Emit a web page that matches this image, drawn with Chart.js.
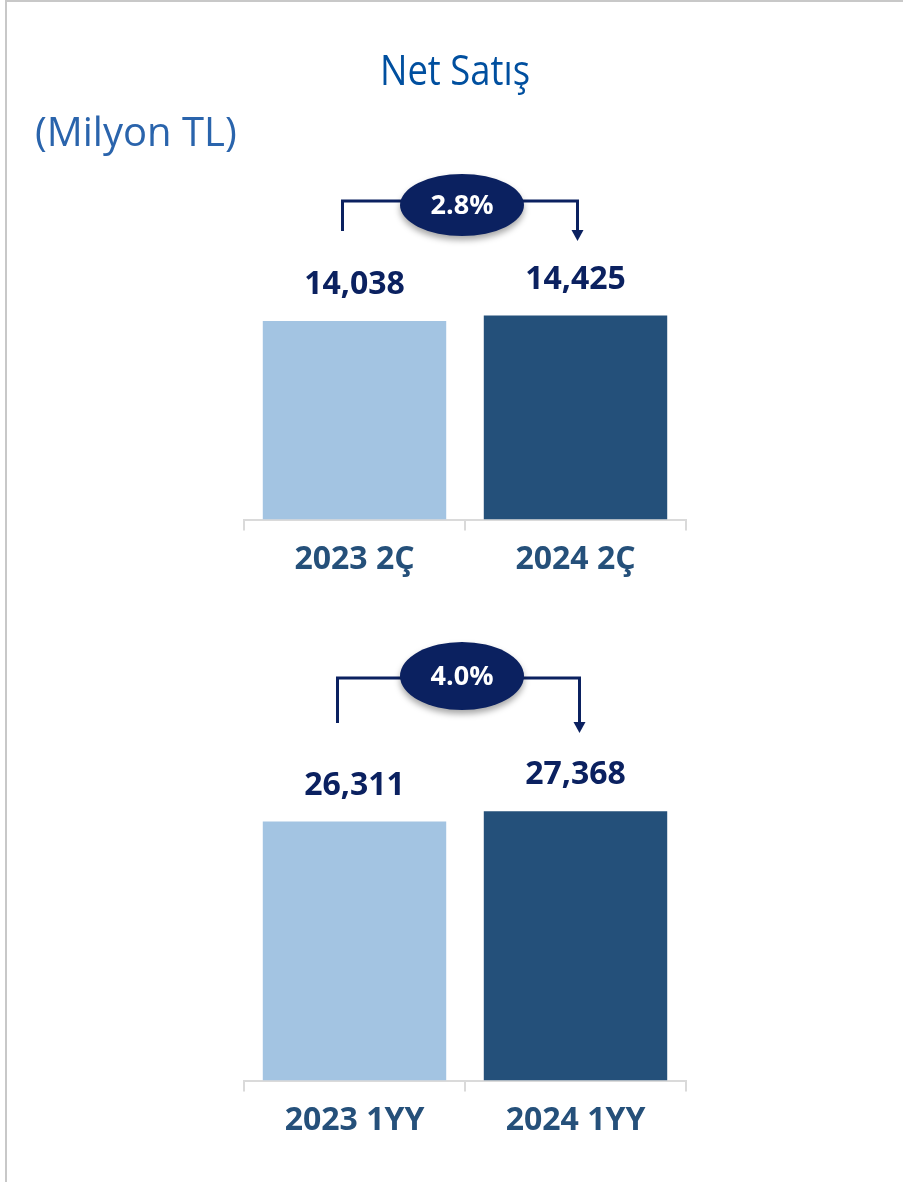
<!DOCTYPE html>
<html>
<head>
<meta charset="utf-8">
<script src="https://cdn.jsdelivr.net/npm/chart.js@4.4.1/dist/chart.umd.min.js"></script>
<style>
  html, body { margin: 0; padding: 0; background: #fff; }
  #page { position: relative; width: 903px; height: 1182px; overflow: hidden; }
  #frame { position: absolute; left: 5px; top: 0; width: 898px; height: 1182px;
           border-left: 2px solid #c8c8c8; border-top: 2px solid #c8c8c8; box-sizing: border-box; }
  #quarterChart { position: absolute; left: 0; top: 0; }
  #halfChart { position: absolute; left: 0; top: 600px; }
</style>
</head>
<body>
<div id="page">
  <div id="frame"></div>
  <canvas id="quarterChart" width="903" height="600"></canvas>
  <canvas id="halfChart" width="903" height="582"></canvas>
</div>
<script>
// data
const quarterLabels = ['2023 2Ç', '2024 2Ç'];
const quarterValues = [14038, 14425];
const quarterChange = '2.8%';

const halfLabels = ['2023 1YY', '2024 1YY'];
const halfValues = [26311, 27368];
const halfChange = '4.0%';

const barColors = ['#a3c4e2', '#24507a'];
const navy = '#0b2160';

// value labels over bars + bracket arrow with the % bubble
const annotatePlugin = {
  id: 'annotate',
  afterDatasetsDraw(chart, args, opts) {
    const ctx = chart.ctx;
    const bars = chart.getDatasetMeta(0).data;
    const values = chart.data.datasets[0].data;
    ctx.save();

    ctx.font = 'bold 32px "Open Sans"';
    ctx.fillStyle = navy;
    ctx.textAlign = 'center';
    ctx.textBaseline = 'alphabetic';
    bars.forEach((bar, i) => {
      ctx.fillText(values[i].toLocaleString('en-US'), bar.x, bar.y - 27);
    });

    const lx = bars[0].x + opts.leftShift;
    const rx = bars[1].x + opts.rightShift;
    const cx = (bars[0].x + bars[1].x) / 2 - 3;
    const hy = opts.lineY;

    ctx.strokeStyle = navy;
    ctx.lineWidth = 3;
    ctx.beginPath();
    ctx.moveTo(lx, opts.leftBottom);
    ctx.lineTo(lx, hy);
    ctx.lineTo(rx, hy);
    ctx.lineTo(rx, opts.arrowTip - 9);
    ctx.stroke();
    ctx.fillStyle = navy;
    ctx.beginPath();
    ctx.moveTo(rx - 6, opts.arrowTip - 11);
    ctx.lineTo(rx + 6, opts.arrowTip - 11);
    ctx.lineTo(rx, opts.arrowTip);
    ctx.closePath();
    ctx.fill();

    ctx.save();
    ctx.shadowColor = 'rgba(0,0,0,0.35)';
    ctx.shadowBlur = 6;
    ctx.shadowOffsetY = 4;
    ctx.beginPath();
    ctx.ellipse(cx, opts.bubbleY, 62, opts.bubbleR, 0, 0, Math.PI * 2);
    ctx.fill();
    ctx.restore();

    ctx.fillStyle = '#ffffff';
    ctx.font = 'bold 27px "Open Sans"';
    ctx.textBaseline = 'middle';
    ctx.fillText(opts.text, cx, opts.bubbleY + 1);
    ctx.restore();
  }
};

const headingPlugin = {
  id: 'heading',
  afterDraw(chart, args, opts) {
    if (!opts.show) return;
    const ctx = chart.ctx;
    ctx.save();
    ctx.textBaseline = 'alphabetic';
    ctx.textAlign = 'center';
    ctx.fillStyle = '#004f9f';
    ctx.font = '42px "Open Sans"';
    ctx.fillText('Net Satış', 455, 85, 150);
    ctx.textAlign = 'left';
    ctx.fillStyle = '#2a64ac';
    ctx.font = '40px "Open Sans"';
    ctx.fillText('(Milyon TL)', 35, 146);
    ctx.restore();
  }
};

function makeChart(id, labels, values, yMax, padTop, padBottom, notes, heading) {
  return new Chart(document.getElementById(id), {
    type: 'bar',
    data: {
      labels: labels,
      datasets: [{
        data: values,
        backgroundColor: barColors,
        categoryPercentage: 1,
        barPercentage: 0.83
      }]
    },
    options: {
      responsive: false,
      animation: false,
      layout: { padding: { left: 244, right: 217, top: padTop, bottom: padBottom } },
      plugins: {
        legend: { display: false },
        tooltip: { enabled: false },
        annotate: notes,
        heading: { show: heading }
      },
      scales: {
        x: {
          grid: { drawOnChartArea: false, color: '#dadada', lineWidth: 2, tickLength: 11 },
          border: { color: '#dadada', width: 2 },
          ticks: {
            color: '#25507a',
            padding: 10,
            font: { family: 'Open Sans', size: 32, weight: 'bold' }
          }
        },
        y: { display: false, min: 0, max: yMax }
      }
    },
    plugins: [annotatePlugin, headingPlugin]
  });
}

makeChart('quarterChart', quarterLabels, quarterValues, 25000, 166, 11,
  { text: quarterChange, leftShift: -12, rightShift: 2, lineY: 201, leftBottom: 231, arrowTip: 241, bubbleY: 205, bubbleR: 31 },
  true);

makeChart('halfChart', halfLabels, halfValues, 35000, 136, 32,
  { text: halfChange, leftShift: -17, rightShift: 4, lineY: 78, leftBottom: 123, arrowTip: 133, bubbleY: 76, bubbleR: 34 },
  false);
</script>
</body>
</html>
